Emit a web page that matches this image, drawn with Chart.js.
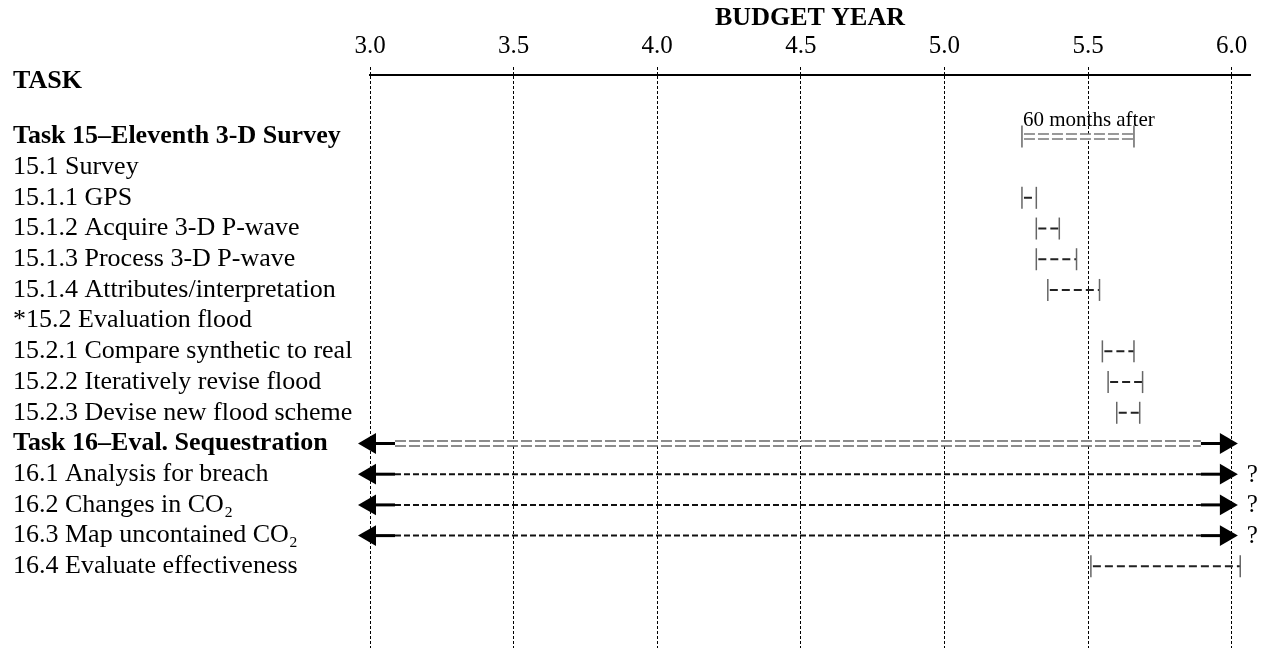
<!DOCTYPE html>
<html>
<head>
<meta charset="utf-8">
<title>Budget year schedule</title>
<script src="https://cdn.jsdelivr.net/npm/chart.js@4.4.1/dist/chart.umd.min.js"></script>
<style>
  html, body { margin: 0; padding: 0; background: #fff; }
  #wrap { width: 1267px; height: 648px; position: relative; }
</style>
</head>
<body>
<div id="wrap"><canvas id="chart"></canvas></div>
<script>
// rows, top to bottom
const taskLabels = [
  "Task 15–Eleventh 3-D Survey",
  "15.1 Survey",
  "15.1.1 GPS",
  "15.1.2 Acquire 3-D P-wave",
  "15.1.3 Process 3-D P-wave",
  "15.1.4 Attributes/interpretation",
  "*15.2 Evaluation flood",
  "15.2.1 Compare synthetic to real",
  "15.2.2 Iteratively revise flood",
  "15.2.3 Devise new flood scheme",
  "Task 16–Eval. Sequestration",
  "16.1 Analysis for breach",
  "16.2 Changes in CO₂",
  "16.3 Map uncontained CO₂",
  "16.4 Evaluate effectiveness",
];
const boldRows = [0, 10];
const headerLabel = "TASK";

const yearTicks = [3.0, 3.5, 4.0, 4.5, 5.0, 5.5, 6.0];

// "|----|" bars
const dashRows = [2, 3, 4, 5, 7, 8, 9, 14];
const dashStart = [5.27, 5.32, 5.32, 5.36, 5.55, 5.57, 5.60, 5.51];
const dashEnd = [5.32, 5.40, 5.46, 5.54, 5.66, 5.69, 5.68, 6.03];

// "|=====|" bars
const doubleRows = [0];
const doubleStart = [5.27];
const doubleEnd = [5.66];

// open ended tasks (arrows both ways)
const arrowRows = [10, 11, 12, 13];
const arrowStart = [3.0, 3.0, 3.0, 3.0];
const arrowEnd = [5.98, 5.98, 5.98, 5.98];
const arrowDouble = [true, false, false, false];
const arrowQuestion = [false, true, true, true];

const noteText = "60 months after";
const noteX = 5.27;
const noteRow = 0;

const HEADER_ROW = -1.8;
const SHAFT = 0.087;
const FONT = "'Liberation Serif', 'Times New Roman', serif";

Chart.defaults.font.family = FONT;
Chart.defaults.color = "#000";

const capStyle = {
  showLine: false,
  pointStyle: "line",
  rotation: 90,
  pointRadius: 11,
  pointHoverRadius: 11,
  pointBorderColor: "#666",
  pointBorderWidth: 1.5,
};

const datasets = [];

dashRows.forEach((r, i) => {
  const pts = [{ x: dashStart[i], y: r }, { x: dashEnd[i], y: r }];
  datasets.push({
    data: pts,
    borderColor: "#222",
    borderWidth: 2,
    borderDash: [8, 4],
    borderDashOffset: 10,
    pointRadius: 0,
    order: 3,
  });
  datasets.push({ data: pts, ...capStyle, order: 1 });
});

doubleRows.forEach((r, i) => {
  const pts = [{ x: doubleStart[i], y: r }, { x: doubleEnd[i], y: r }];
  datasets.push({ data: pts, borderColor: "#777", borderWidth: 6.5, borderDash: [11, 3], borderDashOffset: 12, pointRadius: 0, order: 3 });
  datasets.push({ data: pts, borderColor: "#fff", borderWidth: 3.5, pointRadius: 0, order: 2 });
  datasets.push({ data: pts, ...capStyle, order: 1 });
});

arrowRows.forEach((r, i) => {
  const a = arrowStart[i];
  const b = arrowEnd[i];
  const dbl = arrowDouble[i];
  const pts = [a, a + SHAFT, b - SHAFT, b].map((v) => ({ x: v, y: r }));
  datasets.push({
    data: pts,
    borderColor: "#000",
    borderWidth: 3,
    segment: {
      borderColor: (c) => (c.p0DataIndex === 1 ? (dbl ? "#666" : "#111") : "#000"),
      borderWidth: (c) => (c.p0DataIndex === 1 ? (dbl ? 6.5 : 2) : 3),
      borderDash: (c) => (c.p0DataIndex === 1 ? (dbl ? [11, 3] : [6, 3]) : []),
    },
    pointStyle: "triangle",
    rotation: [270, 0, 0, 90],
    pointRadius: [12, 0, 0, 12],
    pointHoverRadius: [12, 0, 0, 12],
    pointBackgroundColor: "#000",
    pointBorderColor: "#000",
    pointBorderWidth: 0,
    order: 3,
  });
  if (dbl) {
    datasets.push({ data: pts.slice(1, 3), borderColor: "#fff", borderWidth: 3.5, pointRadius: 0, order: 2 });
  }
});

datasets.forEach((d) => {
  d.clip = false;
  d.fill = false;
  d.tension = 0;
});

// note over task 15 and the question marks after the open arrows
const extraText = {
  id: "extraText",
  afterDatasetsDraw(chart) {
    const { ctx, scales: { x, y } } = chart;
    ctx.save();
    ctx.fillStyle = "#000";
    ctx.textAlign = "left";
    ctx.font = "21px " + FONT;
    ctx.textBaseline = "alphabetic";
    ctx.fillText(noteText, x.getPixelForValue(noteX) + 1, y.getPixelForValue(noteRow) - 10);
    ctx.font = "25px " + FONT;
    ctx.textBaseline = "middle";
    arrowRows.forEach((r, i) => {
      if (!arrowQuestion[i]) return;
      ctx.fillText("?", x.getPixelForValue(arrowEnd[i]) + 21, y.getPixelForValue(r) + 1);
    });
    ctx.restore();
  },
};

const ctx = document.getElementById("chart").getContext("2d");

const chart = new Chart(ctx, {
  type: "line",
  data: { datasets: datasets },
  options: {
    responsive: true,
    maintainAspectRatio: false,
    animation: false,
    events: [],
    layout: { autoPadding: false, padding: { left: 13, right: 17, top: 0, bottom: 0 } },
    plugins: {
      legend: { display: false },
      tooltip: { enabled: false },
    },
    scales: {
      x: {
        type: "linear",
        position: "top",
        min: 3,
        max: 6.064,
        afterBuildTicks: (scale) => {
          scale.ticks = yearTicks.map((v) => ({ value: v }));
        },
        afterFit: (scale) => {
          scale.height = 75;
          scale.paddingLeft = 0;
          scale.paddingRight = 0;
        },
        ticks: {
          autoSkip: false,
          maxRotation: 0,
          padding: 6,
          color: "#000",
          font: { size: 25 },
          callback: (v) => Number(v).toFixed(1),
        },
        title: {
          display: true,
          text: "BUDGET YEAR",
          color: "#000",
          font: { size: 26, weight: "bold" },
          padding: { top: 3, bottom: 0 },
        },
        grid: {
          color: "#000",
          lineWidth: 1,
          drawTicks: true,
          tickLength: 8,
          tickBorderDash: [3, 2],
        },
        border: {
          display: true,
          color: "#000",
          width: 2,
          dash: [3, 2],
        },
      },
      y: {
        type: "linear",
        reverse: true,
        min: -2,
        max: 16.66,
        afterBuildTicks: (scale) => {
          scale.ticks = [HEADER_ROW, ...taskLabels.map((_, i) => i)].map((v) => ({ value: v }));
        },
        afterFit: (scale) => {
          scale.width = 357;
          scale.paddingTop = 0;
          scale.paddingBottom = 0;
        },
        ticks: {
          autoSkip: false,
          crossAlign: "far",
          padding: 0,
          color: "#000",
          font: (c) => {
            const v = c.tick ? c.tick.value : null;
            const bold = v === HEADER_ROW || boldRows.includes(v);
            return { family: FONT, size: 26, weight: bold ? "bold" : "normal" };
          },
          callback: (v) => (v === HEADER_ROW ? headerLabel : taskLabels[v]),
        },
        grid: { display: false },
        border: { display: false },
      },
    },
  },
  plugins: [extraText],
});
</script>
</body>
</html>
